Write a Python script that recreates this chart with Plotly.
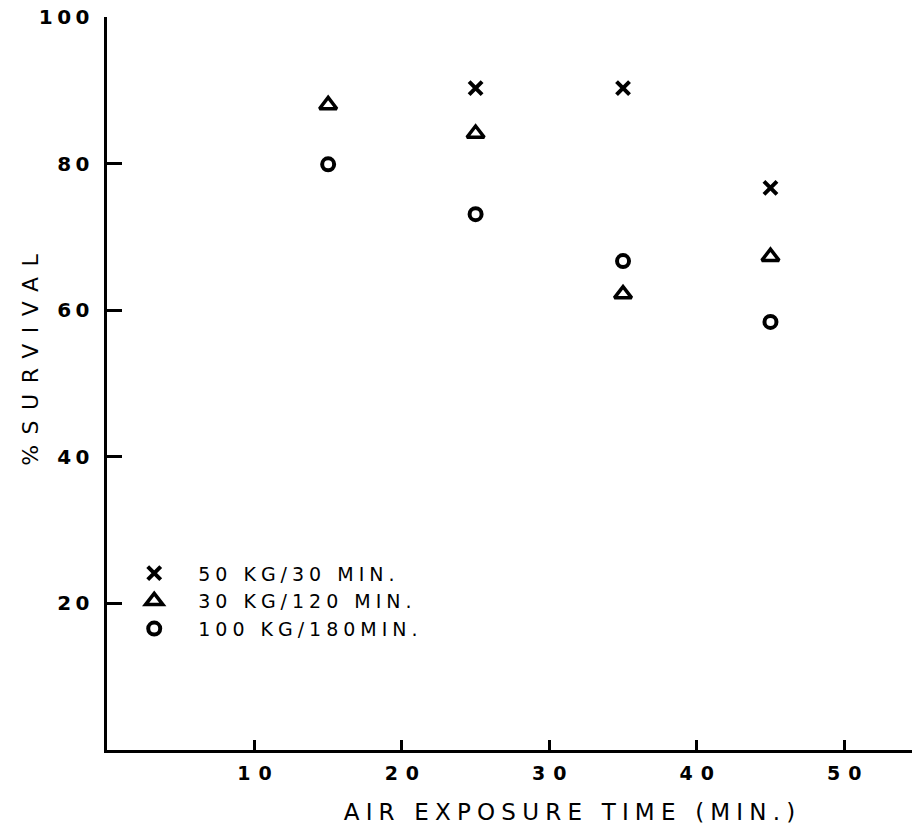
import plotly.graph_objects as go

# Data
x_vals_a = [25, 35, 45]
y_vals_a = [90.3, 90.3, 76.7]          # 50 KG/30 MIN.
x_vals_b = [15, 25, 35, 45]
y_vals_b = [88.0, 84.1, 62.2, 67.3]    # 30 KG/120 MIN.
x_vals_c = [15, 25, 35, 45]
y_vals_c = [79.9, 73.1, 66.7, 58.4]    # 100 KG/180 MIN.

series_names = ["50 KG/30 MIN.", "30 KG/120 MIN.", "100 KG/180MIN."]
x_ticks = [10, 20, 30, 40, 50]
y_ticks = [20, 40, 60, 80, 100]

FONT = "DejaVu Sans"
INK = "black"

fig = go.Figure()
fig.add_trace(go.Scatter(
    x=x_vals_a, y=y_vals_a, mode="markers", name=series_names[0],
    marker=dict(symbol="x-thin-open", size=13, color=INK, line=dict(width=4, color=INK)),
))
fig.add_trace(go.Scatter(
    x=x_vals_b, y=y_vals_b, mode="markers", name=series_names[1],
    marker=dict(symbol="triangle-up-open", size=15, color=INK, line=dict(width=3.5, color=INK)),
))
fig.add_trace(go.Scatter(
    x=x_vals_c, y=y_vals_c, mode="markers", name=series_names[2],
    marker=dict(symbol="circle-open", size=12, color=INK, line=dict(width=4, color=INK)),
))

fig.update_layout(
    width=912, height=829,
    margin=dict(l=107, r=0, t=17, b=79, autoexpand=False),
    paper_bgcolor="white", plot_bgcolor="white",
    font=dict(family=FONT, color=INK, size=20),
    showlegend=True,
    legend=dict(
        x=0.004, y=0.267, xanchor="left", yanchor="top",
        bgcolor="rgba(0,0,0,0)", font=dict(size=19, family=FONT),
        itemwidth=78, tracegroupgap=0,
    ),
    xaxis=dict(
        range=[0, 54.6], tickvals=x_ticks, ticktext=[str(v) for v in x_ticks],
        showline=True, linecolor=INK, linewidth=3,
        ticks="inside", ticklen=10, tickwidth=3, tickcolor=INK,
        showgrid=False, zeroline=False, automargin=False,
        tickfont=dict(size=19, family=FONT, weight="bold"), ticklabelstandoff=4,
    ),
    yaxis=dict(
        range=[0, 100], tickvals=y_ticks, ticktext=[str(v) for v in y_ticks],
        showline=True, linecolor=INK, linewidth=3,
        ticks="inside", ticklen=15, tickwidth=3, tickcolor=INK,
        showgrid=False, zeroline=False, automargin=False,
        tickfont=dict(size=20, family=FONT, weight="bold"), ticklabelstandoff=6,
    ),
    annotations=[
        dict(text="AIR EXPOSURE TIME (MIN.)", xref="x", yref="paper",
             x=31.4, y=-0.0846, xanchor="center", yanchor="middle", showarrow=False,
             font=dict(size=23, family=FONT)),
        dict(text="%SURVIVAL", xref="paper", yref="y", textangle=-90,
             x=-0.095, y=53.2, xanchor="center", yanchor="middle", showarrow=False,
             font=dict(size=22, family=FONT)),
    ],
)

# Page without the default body margin, and tracked (letter-spaced) lettering
post = """
document.body.style.margin = '0';
var gd = document.getElementById('{plot_id}');
function track(sel, px, shift) {
  gd.querySelectorAll(sel).forEach(function(e){
    e.style.letterSpacing = px + 'px';
    if (shift) e.setAttribute('dx', px / 2);
  });
}
track('.ytick text', 4.5, false);
track('.xtick text', 8, true);
track('.legendtext', 5, false);
gd.querySelectorAll('.legend [clip-path]').forEach(function(e){ e.removeAttribute('clip-path'); });
var ann = gd.querySelectorAll('.annotation-text');
if (ann.length > 0) { ann[0].style.letterSpacing = '6.2px'; ann[0].setAttribute('dx', 3.1); }
if (ann.length > 1) { ann[1].style.letterSpacing = '10.5px'; ann[1].setAttribute('dx', 5); }
"""

fig.write_html("out.html", post_script=post, config={"displayModeBar": False})
